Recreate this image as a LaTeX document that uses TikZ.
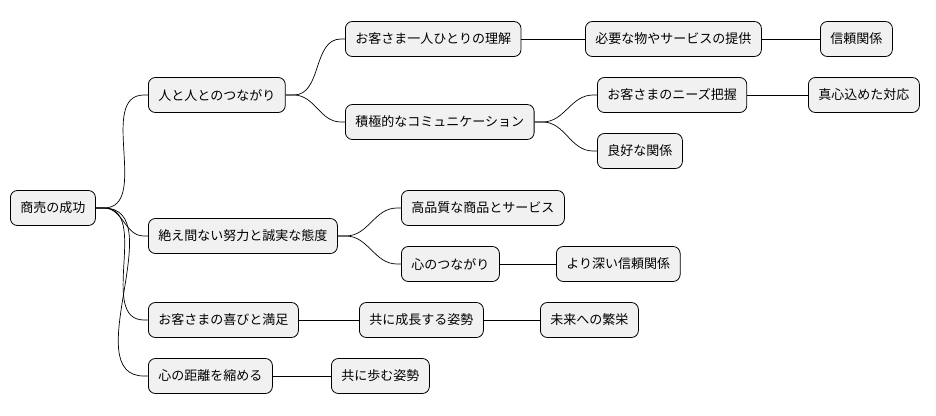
\documentclass[tikz,border=0pt]{standalone}
\usepackage{fontspec}
\newfontfamily\cjk{Noto Sans CJK JP}
\begin{document}
\begin{tikzpicture}[x=1pt,y=-1pt,
  n/.style={draw=black,line width=0.8pt,fill={rgb,255:red,241;green,241;blue,241},rounded corners=7pt,minimum height=35pt,inner xsep=10pt,anchor=west,font=\cjk\fontsize{13}{15}\selectfont},
  c/.style={line width=0.7pt}]
\useasboundingbox (0,0) rectangle (936,415);
\node[n] (r) at (10,208) {商売の成功};
\node[n] (a) at (148,95) {人と人とのつながり};
\node[n] (a1) at (345,39) {お客さま一人ひとりの理解};
\node[n] (a11) at (585,39) {必要な物やサービスの提供};
\node[n] (a111) at (820,39) {信頼関係};
\node[n] (a2) at (345,122) {積極的なコミュニケーション};
\node[n] (a21) at (597,95) {お客さまのニーズ把握};
\node[n] (a211) at (808,95) {真心込めた対応};
\node[n] (a22) at (597,151) {良好な関係};
\node[n] (b) at (148,236) {絶え間ない努力と誠実な態度};
\node[n] (b1) at (401,208) {高品質な商品とサービス};
\node[n] (b2) at (401,264) {心のつながり};
\node[n] (b21) at (556,264) {より深い信頼関係};
\node[n] (c) at (148,320) {お客さまの喜びと満足};
\node[n] (c1) at (359,320) {共に成長する姿勢};
\node[n] (c11) at (540,320) {未来への繁栄};
\node[n] (d) at (148,376) {心の距離を縮める};
\node[n] (d1) at (331,376) {共に歩む姿勢};
\foreach \p/\q in {r/a,r/b,r/c,r/d,a/a1,a/a2,b/b1,b/b2,a2/a21,a2/a22}
  \draw[c] (\p.east) -- ++(8,0) to[out=0,in=180] ([xshift=-4pt]\q.west) -- (\q.west);
\foreach \p/\q in {a1/a11,a11/a111,a21/a211,b2/b21,c/c1,c1/c11,d/d1}
  \draw[c] (\p.east) -- (\q.west);
\end{tikzpicture}
\end{document}
